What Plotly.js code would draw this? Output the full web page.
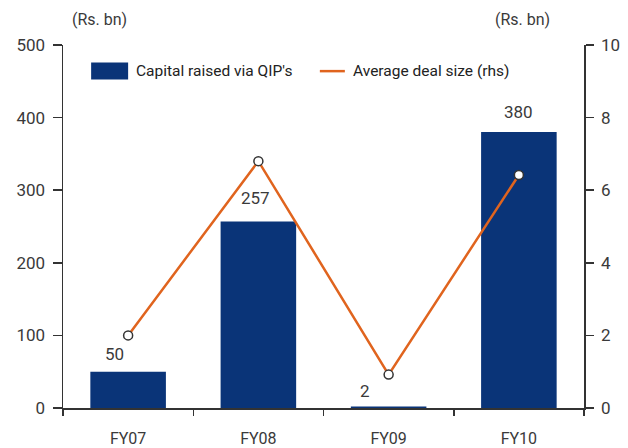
<!DOCTYPE html>
<html><head><meta charset="utf-8">
<script src="https://cdn.plot.ly/plotly-3.0.1.min.js"></script>
<style>body{margin:0}#c{width:628px;height:448px}</style>
</head><body><div id="c"></div>
<script>
const categories = ["FY07","FY08","FY09","FY10"];
const capitalRaised = [50, 257, 2, 380];
const avgDealSize = [2.0, 6.8, 0.92, 6.42];
const barLabels = ["50","257","2","380"];
const legendNames = ["Capital raised via QIP's", "Average deal size (rhs)"];

const fontFam = "Roboto, 'Liberation Sans', sans-serif";
const txt = "#3a3a3a";
const barColor = "#0a3478";
const lineColor = "#e0641e";

const bars = {
  type: "bar", x: categories, y: capitalRaised, name: legendNames[0],
  marker: {color: barColor}, width: 0.58, yaxis: "y", showlegend: false
};
const line = {
  type: "scatter", mode: "lines+markers", x: categories, y: avgDealSize, yaxis: "y2",
  name: legendNames[1], showlegend: false,
  line: {color: lineColor, width: 2.5},
  marker: {size: 9, color: "#ffffff", line: {color: "#333333", width: 1.5}}
};

const xshifts = [-14, -3, -24, 0];
const yshifts = [18, 23, 16, 20];
const annotations = categories.map((c, i) => ({
  x: c, y: capitalRaised[i], xref: "x", yref: "y", text: barLabels[i],
  showarrow: false, xshift: xshifts[i], yshift: yshifts[i],
  font: {family: fontFam, size: 17, color: txt}
}));
// axis unit labels
annotations.push({xref: "paper", yref: "paper", x: 0.071, y: 1.069, xanchor: "center", yanchor: "middle",
  text: "(Rs. bn)", showarrow: false, font: {family: fontFam, size: 16, color: txt}});
annotations.push({xref: "paper", yref: "paper", x: 0.881, y: 1.069, xanchor: "center", yanchor: "middle",
  text: "(Rs. bn)", showarrow: false, font: {family: fontFam, size: 16, color: txt}});
// legend texts
annotations.push({xref: "paper", yref: "paper", x: 0.137, y: 0.928, xanchor: "left", yanchor: "middle",
  text: legendNames[0], showarrow: false, font: {family: fontFam, size: 15.5, color: "#222"}});
annotations.push({xref: "paper", yref: "paper", x: 0.553, y: 0.928, xanchor: "left", yanchor: "middle",
  text: legendNames[1], showarrow: false, font: {family: fontFam, size: 15.5, color: "#222"}});

const shapes = [
  {type: "rect", xref: "paper", yref: "paper", x0: 0.054, x1: 0.125, y0: 0.905, y1: 0.952,
    fillcolor: barColor, line: {width: 0}},
  {type: "line", xref: "paper", yref: "paper", x0: 0.493, x1: 0.541, y0: 0.928, y1: 0.928,
    line: {color: lineColor, width: 2.5}}
];

const layout = {
  width: 628, height: 448,
  margin: {l: 63, r: 44, t: 45, b: 40},
  paper_bgcolor: "#fff", plot_bgcolor: "#fff",
  font: {family: fontFam, color: txt, size: 16},
  showlegend: false,
  xaxis: {type: "category", showline: true, linecolor: "#333", linewidth: 1.5,
    ticks: "outside", tickson: "boundaries", ticklen: 6, tickcolor: "#333", tickwidth: 1.5,
    ticklabelstandoff: 15, tickfont: {size: 16, color: txt}, showgrid: false, zeroline: false},
  yaxis: {range: [0, 500], dtick: 100, showline: true, linecolor: "#333", linewidth: 1.5,
    ticks: "outside", ticklen: 9, tickcolor: "#333", tickwidth: 1.5, showgrid: false, zeroline: false,
    ticklabelstandoff: 4, tickfont: {size: 17, color: txt}},
  yaxis2: {range: [0, 10], dtick: 2, overlaying: "y", side: "right", showline: true, linecolor: "#333", linewidth: 1.5,
    ticks: "outside", ticklen: 8, tickcolor: "#333", tickwidth: 1.5, showgrid: false, zeroline: false,
    ticklabelstandoff: 4, tickfont: {size: 17, color: txt}},
  annotations: annotations,
  shapes: shapes
};
Plotly.newPlot("c", [bars, line], layout, {displayModeBar: false, staticPlot: true});
</script></body></html>
